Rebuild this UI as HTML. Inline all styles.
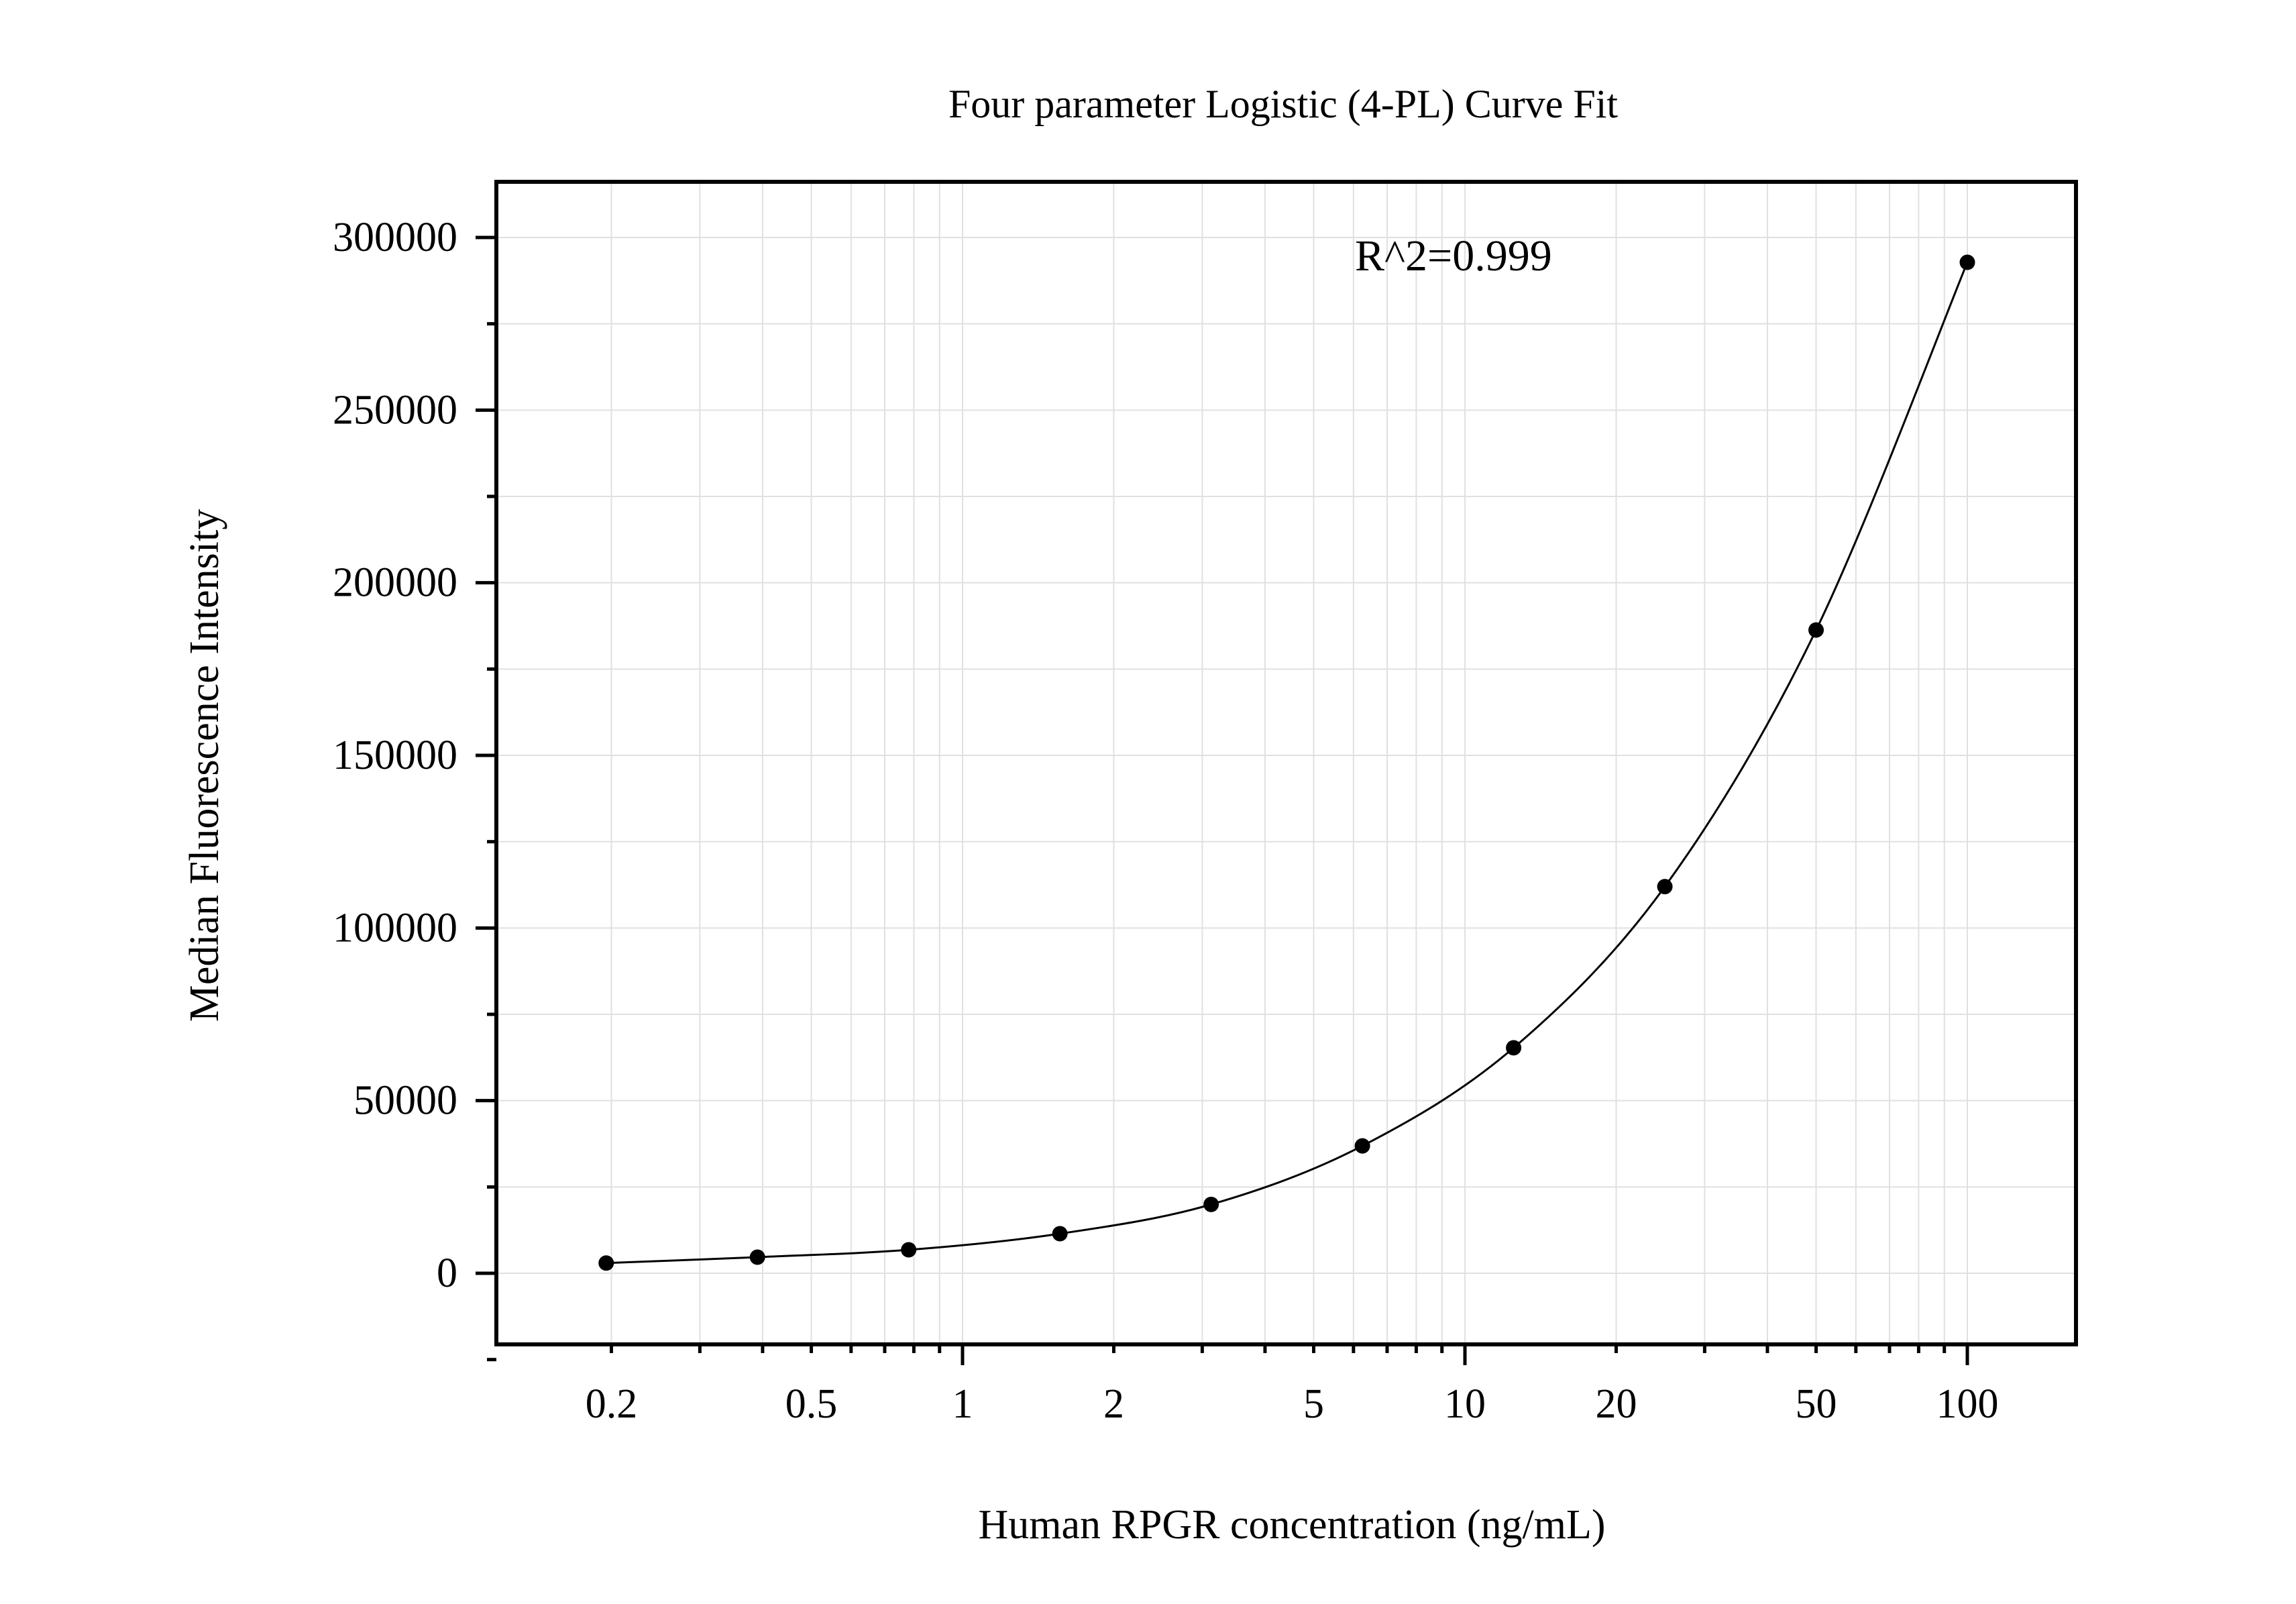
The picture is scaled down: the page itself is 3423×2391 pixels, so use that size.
<!DOCTYPE html>
<html><head><meta charset="utf-8"><style>
html,body{margin:0;padding:0;background:#fff}
svg{display:block;font-family:"Liberation Serif",serif}
</style></head><body>
<svg id="chart" width="3423" height="2391" viewBox="0 0 3423 2391" xmlns="http://www.w3.org/2000/svg">
<rect width="3423" height="2391" fill="#fff"/>
<g id="grid"></g>
<g id="curve"></g>
<g id="points"></g>
<g id="axes"></g>
<text x="1913" y="175" font-size="60" text-anchor="middle">Four parameter Logistic (4-PL) Curve Fit</text>
<text x="1926" y="2293" font-size="62" text-anchor="middle">Human RPGR concentration (ng/mL)</text>
<text transform="translate(325,1141) rotate(-90)" font-size="62" text-anchor="middle">Median Fluorescence Intensity</text>
<text x="2020" y="403" font-size="66">R^2=0.999</text>
</svg>
<script>
const concentrations=[0.1953125,0.390625,0.78125,1.5625,3.125,6.25,12.5,25,50,100];
const mfiValues=[2970,4670,6790,11460,19940,36900,65300,112000,186300,292800];
const xTickLabels=["0.2","0.5","1","2","5","10","20","50","100"];
const xTickValues=[0.2,0.5,1,2,5,10,20,50,100];
const yTickValues=[0,50000,100000,150000,200000,250000,300000];
const yTickLabels=["0","50000","100000","150000","200000","250000","300000"];

const L=740,T=271,R=3095,B=2004;
const X1=1435,DEC=749,Y0=1898,YS=1544/300000;
function sx(v){return X1+Math.log10(v)*DEC;}
function sy(v){return Y0-v*YS;}
const NS="http://www.w3.org/2000/svg";
function mk(tag,attrs,parent){const e=document.createElementNS(NS,tag);for(const k in attrs)e.setAttribute(k,attrs[k]);parent.appendChild(e);return e;}
const grid=document.getElementById('grid'),axes=document.getElementById('axes');

// x minor positions
const xMinor=[];
for(let d=-1;d<=2;d++)for(let m=1;m<10;m++){const v=m*Math.pow(10,d);const px=sx(v);if(px>L+4&&px<R-4)xMinor.push(v);}
xMinor.forEach(v=>{
  const g=mk('line',{x1:sx(v),x2:sx(v),y1:T,y2:B,stroke:'#e0e0e0','stroke-width':2},grid);
  
  
  const major=Math.abs(Math.log10(v)-Math.round(Math.log10(v)))<1e-9;
  const t=mk('line',{x1:sx(v),x2:sx(v),y1:B,y2:B+(major?31:13),stroke:'#000','stroke-width':5},axes);
  
  
});
for(let y=0;y<=300000;y+=25000){
  const g=mk('line',{x1:L,x2:R,y1:sy(y),y2:sy(y),stroke:'#e0e0e0','stroke-width':2},grid);
  
  
}
for(let y=-25000;y<=300000;y+=25000){
  const major=(y%50000===0);
  const t=mk('line',{x1:L-(major?31:14),x2:L,y1:sy(y),y2:sy(y),stroke:'#000','stroke-width':5},axes);
  
  
}
xTickValues.forEach((v,i)=>{
  const t=mk('text',{x:sx(v),y:2113,'font-size':62,'text-anchor':'middle'},axes);
  t.textContent=xTickLabels[i];
  
  
});
yTickValues.forEach((v,i)=>{
  const t=mk('text',{x:682,y:sy(v)+20,'font-size':62,'text-anchor':'end'},axes);
  t.textContent=yTickLabels[i];
  
  
});
const frame=mk('rect',{x:L,y:T,width:R-L,height:B-T,fill:'none',stroke:'#000','stroke-width':6},axes);



// curve: Catmull-Rom through points
const pts=concentrations.map((c,i)=>[sx(c),sy(mfiValues[i])]);
let d=`M${pts[0][0]},${pts[0][1]}`;
for(let i=0;i<pts.length-1;i++){
  const p0=pts[Math.max(0,i-1)],p1=pts[i],p2=pts[i+1],p3=pts[Math.min(pts.length-1,i+2)];
  const c1=[p1[0]+(p2[0]-p0[0])/6,p1[1]+(p2[1]-p0[1])/6];
  const c2=[p2[0]-(p3[0]-p1[0])/6,p2[1]-(p3[1]-p1[1])/6];
  d+=` C${c1[0]},${c1[1]} ${c2[0]},${c2[1]} ${p2[0]},${p2[1]}`;
}
const path=mk('path',{d:d,fill:'none',stroke:'#000','stroke-width':3},document.getElementById('curve'));


pts.forEach(p=>{
  const c=mk('circle',{cx:p[0],cy:p[1],r:11.5,fill:'#000'},document.getElementById('points'));
  
  
});
</script>
</body></html>
